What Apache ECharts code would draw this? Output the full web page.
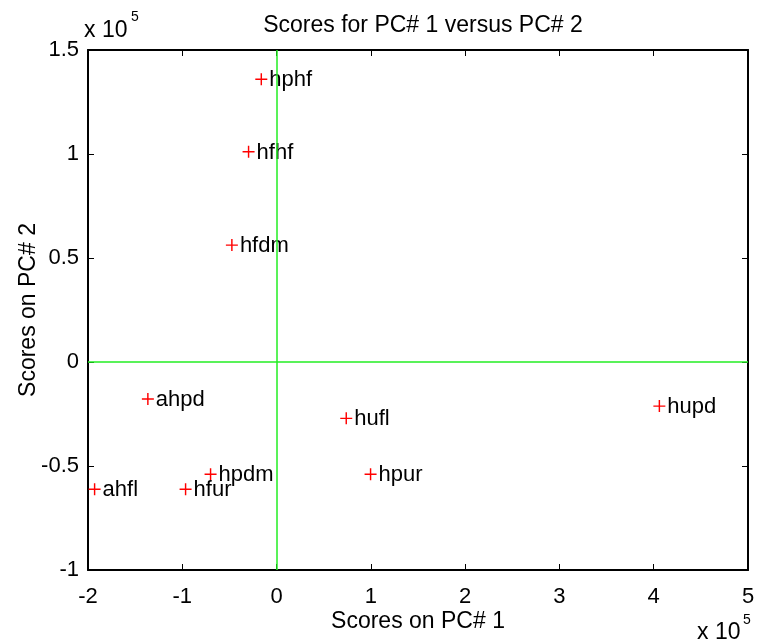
<!DOCTYPE html>
<html>
<head>
<meta charset="utf-8">
<script src="https://cdn.jsdelivr.net/npm/echarts@6/dist/echarts.min.js"></script>
<style>
  html, body { margin: 0; padding: 0; background: #fff; }
  #chart { width: 758px; height: 644px; }
</style>
</head>
<body>
<div id="chart"></div>
<script>
// Sample names and their principal-component scores
const sampleNames = ['hphf', 'hfhf', 'hfdm', 'ahpd', 'hufl', 'hupd', 'hpdm', 'hpur', 'ahfl', 'hfur'];
const pc1Scores = [-16200, -29700, -47400, -136500, 73900, 406000, -70000, 99700, -193000, -96500];
const pc2Scores = [135900, 101100, 56200, -17800, -27100, -21200, -54000, -54000, -61200, -61200];

// Axis ranges (raw units) and the common exponent shown beside the axes
const xRange = { min: -200000, max: 500000, step: 100000 };
const yRange = { min: -100000, max: 150000, step: 50000 };
const scale = 100000;
const exponentText = ['x 10', '5'];

const FONT = '"Liberation Sans", Arial, Helvetica, sans-serif';
const TICK_FS = 22;
const NAME_FS = 23;
const points = sampleNames.map((n, i) => [pc1Scores[i], pc2Scores[i], n]);

const fmt = v => String(+(v / scale).toFixed(2));

// thin "+" marker
const plusPath = 'path://M4.4,0H5.6V4.4H10V5.6H5.6V10H4.4V5.6H0V4.4H4.4Z';

const chart = echarts.init(document.getElementById('chart'), null, { renderer: 'canvas' });

const axisLineStyle = { show: true, onZero: false, lineStyle: { color: '#000', width: 2 } };
const tickStyle = { show: true, inside: true, length: 6, lineStyle: { color: '#000', width: 1 } };

const baseX = {
  type: 'value', min: xRange.min, max: xRange.max, interval: xRange.step,
  splitLine: { show: false }, axisLine: axisLineStyle, axisTick: tickStyle
};
const baseY = {
  type: 'value', min: yRange.min, max: yRange.max, interval: yRange.step,
  splitLine: { show: false }, axisLine: axisLineStyle, axisTick: tickStyle
};

const txt = (text, left, top, size) => ({
  type: 'text', left, top,
  style: { text, fontFamily: FONT, fontSize: size, fill: '#000' }
});

chart.setOption({
  animation: false,
  backgroundColor: '#fff',
  title: {
    text: 'Scores for PC# 1 versus PC# 2',
    left: 418, top: 9, textAlign: 'center',
    textStyle: { fontFamily: FONT, fontSize: NAME_FS, fontWeight: 'normal', color: '#000' }
  },
  grid: { left: 88, right: 10, top: 50, bottom: 74 },
  xAxis: [
    Object.assign({}, baseX, {
      position: 'bottom',
      name: 'Scores on PC# 1', nameLocation: 'middle', nameGap: 40, nameMoveOverlap: false,
      nameTextStyle: { fontFamily: FONT, fontSize: NAME_FS, color: '#000' },
      axisLabel: { formatter: fmt, margin: 16, fontFamily: FONT, fontSize: TICK_FS, color: '#000' }
    }),
    Object.assign({}, baseX, { position: 'top', axisLabel: { show: false } })
  ],
  yAxis: [
    Object.assign({}, baseY, {
      position: 'left',
      name: 'Scores on PC# 2', nameLocation: 'middle', nameGap: 48, nameMoveOverlap: false,
      nameTextStyle: { fontFamily: FONT, fontSize: NAME_FS, color: '#000' },
      axisLabel: { formatter: fmt, margin: 9, fontFamily: FONT, fontSize: TICK_FS, color: '#000' }
    }),
    Object.assign({}, baseY, { position: 'right', axisLabel: { show: false } })
  ],
  graphic: [
    txt(exponentText[0], 84, 19, NAME_FS),
    txt(exponentText[1], 131, 10, 14),
    txt(exponentText[0], 697, 621, NAME_FS),
    txt(exponentText[1], 743, 613, 14)
  ],
  series: [{
    type: 'scatter',
    data: points,
    symbol: plusPath,
    symbolSize: 12,
    itemStyle: { color: '#ff0000', opacity: 1 },
    label: {
      show: true, position: 'right', distance: 2, offset: [0, 1],
      formatter: p => p.data[2],
      fontFamily: FONT, fontSize: TICK_FS, color: '#000'
    },
    emphasis: { disabled: true },
    markLine: {
      silent: true, symbol: 'none', animation: false,
      label: { show: false },
      lineStyle: { color: '#22ee22', width: 1.5, type: 'solid' },
      data: [{ xAxis: 0 }, { yAxis: 0 }]
    },
    z: 3
  }]
});
</script>
</body>
</html>
